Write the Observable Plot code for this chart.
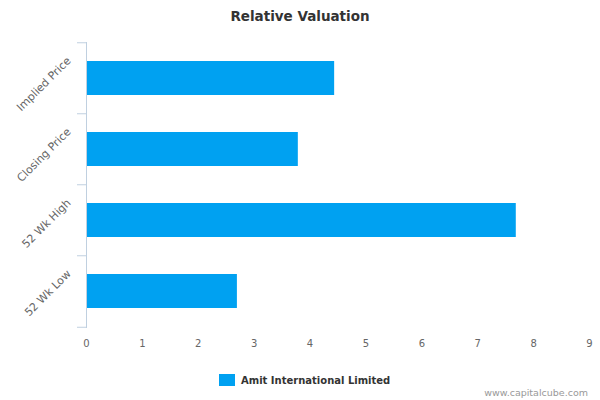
<!DOCTYPE html>
<html>
<head>
<meta charset="utf-8">
<script src="https://cdn.jsdelivr.net/npm/d3@7"></script>
<script src="https://cdn.jsdelivr.net/npm/@observablehq/plot@0.6"></script>
<style>
  body { margin: 0; background: #fff; font-family: "DejaVu Sans", sans-serif; }
  #wrap { position: relative; width: 600px; height: 400px; overflow: hidden; }
  #chart { position: absolute; left: 0; top: 0; }
  #title { position: absolute; left: 0; top: 8px; width: 600px; text-align: center;
           font-size: 13.5px; font-weight: bold; line-height: 16px; color: #333; }
  #legend { position: absolute; left: 219px; top: 374px; height: 12px; display: flex; align-items: flex-start; }
  #legend .sw { width: 16px; height: 12px; margin-right: 6px; }
  #legend .lab { font-size: 10px; font-weight: bold; line-height: 12px; color: #333; margin-top: 1px; }
  #credit { position: absolute; right: 12px; top: 387px; font-size: 9.5px; line-height: 12px; color: #999; }
</style>
</head>
<body>
<div id="wrap">
  <div id="chart"></div>
  <div id="title"></div>
  <div id="legend"></div>
  <div id="credit"></div>
</div>
<script>
const titleText = "Relative Valuation";
const categories = ["Implied Price", "Closing Price", "52 Wk High", "52 Wk Low"];
const values = [4.44, 3.79, 7.69, 2.70];
const xTicks = [0, 1, 2, 3, 4, 5, 6, 7, 8, 9];
const seriesName = "Amit International Limited";
const creditText = "www.capitalcube.com";

const barColor = "#00a1f1";
const axisColor = "#c0d0e0";

const data = categories.map((c, i) => ({category: c, value: values[i]}));

const marginTop = 42, marginBottom = 72, height = 400;
const step = (height - marginTop - marginBottom) / categories.length;

const chart = Plot.plot({
  width: 600,
  height,
  marginLeft: 86,
  marginRight: 11,
  marginTop,
  marginBottom,
  style: {fontFamily: "DejaVu Sans, sans-serif", background: "transparent"},
  x: {domain: [0, 9], label: null},
  y: {domain: categories, paddingInner: 0.52, paddingOuter: 0.26, label: null},
  marks: [
    Plot.barX(data, {x: "value", y: "category", fill: barColor}),
    Plot.ruleX([0], {stroke: axisColor, strokeWidth: 1}),
    Plot.axisY({ticks: categories, tickSize: 9, tickFormat: () => "", stroke: axisColor, dy: -step / 2, label: null}),
    Plot.axisY({ticks: [categories[categories.length - 1]], tickSize: 9, tickFormat: () => "", stroke: axisColor, dy: step / 2, label: null}),
    Plot.text(categories, {
      y: d => d, frameAnchor: "left", text: d => d,
      dx: -15, dy: -17, rotate: -45, textAnchor: "end", lineAnchor: "bottom",
      fontSize: 11, fill: "#666"
    }),
    Plot.axisX({ticks: xTicks, tickSize: 0, tickPadding: 11, fontSize: 10, fill: "#666", tickFormat: d => String(d), label: null})
  ]
});
document.getElementById("chart").appendChild(chart);
document.getElementById("title").textContent = titleText;
document.getElementById("legend").innerHTML =
  `<div class="sw" style="background:${barColor}"></div><div class="lab"></div>`;
document.querySelector("#legend .lab").textContent = seriesName;
document.getElementById("credit").textContent = creditText;
</script>
</body>
</html>
